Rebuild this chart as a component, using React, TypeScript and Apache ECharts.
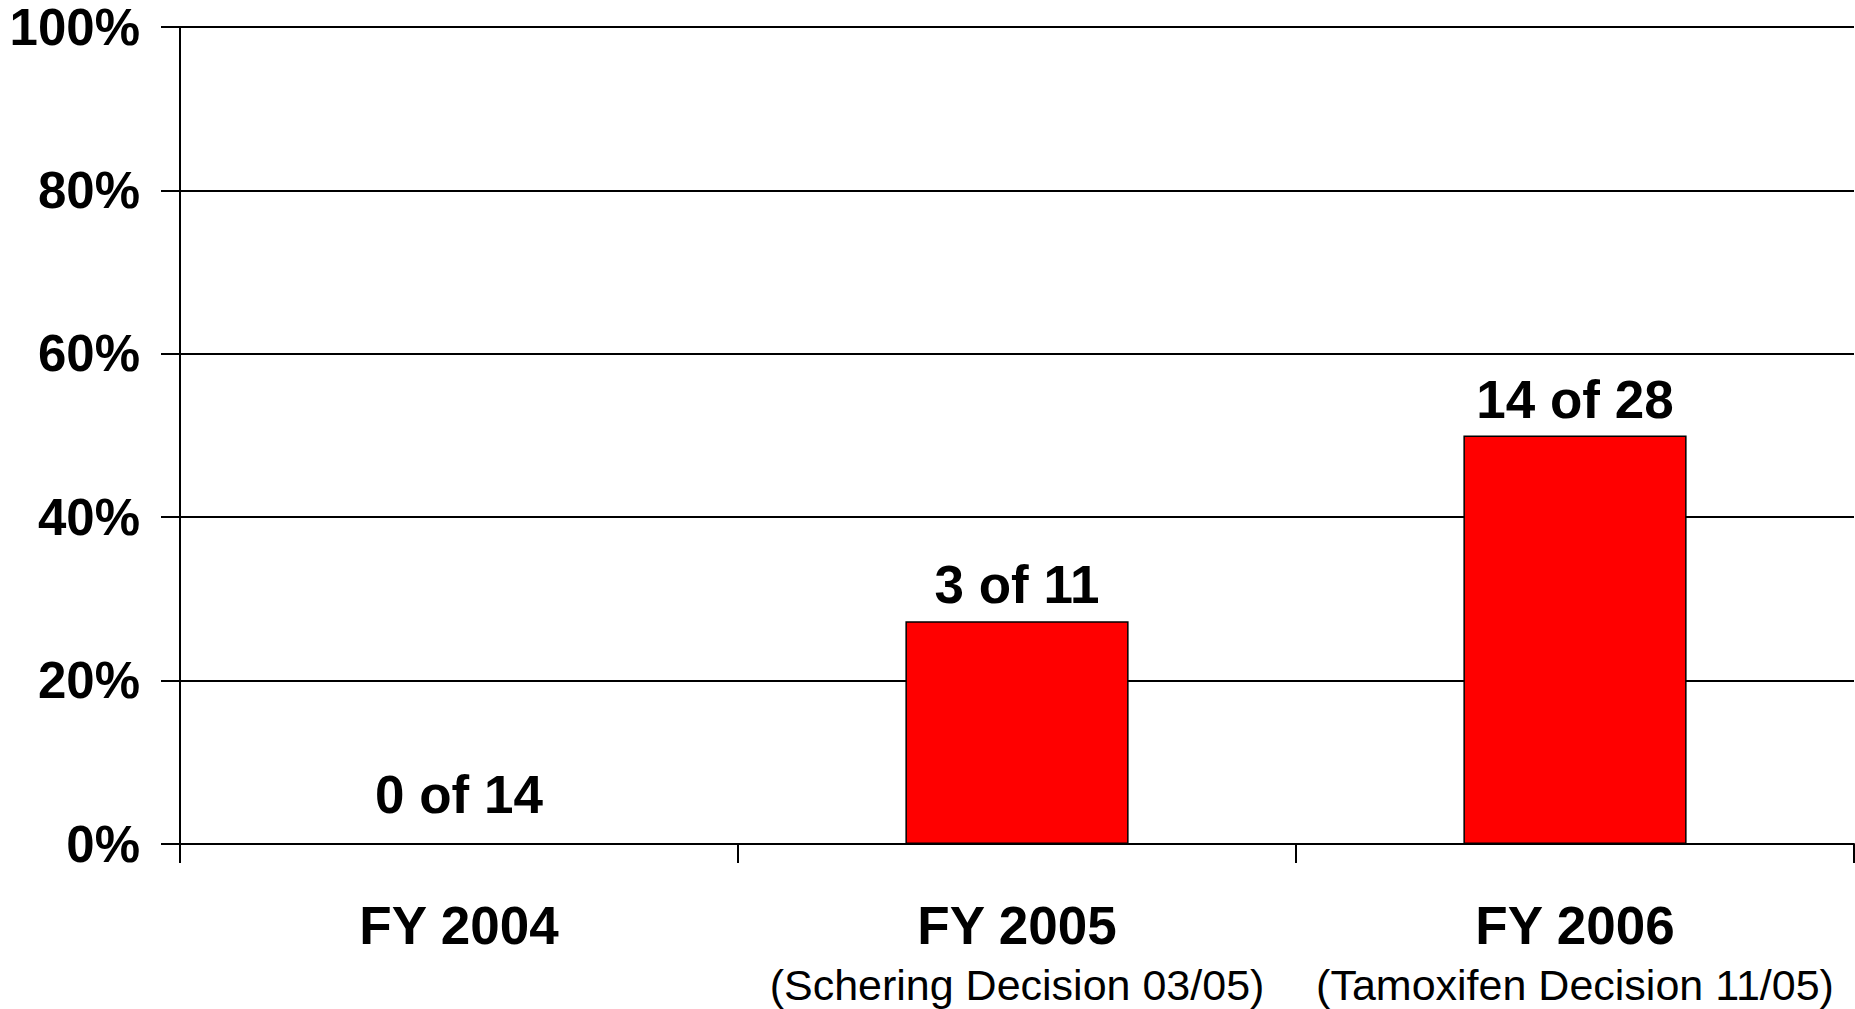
import React, { useEffect, useRef } from "react";
import * as echarts from "echarts";

const categories = ["FY 2004", "FY 2005", "FY 2006"];
const subtitles = ["", "(Schering Decision 03/05)", "(Tamoxifen Decision 11/05)"];
const percentValues = [0, 27.27, 50];
const barLabels = ["0 of 14", "3 of 11", "14 of 28"];

const FONT = "'Liberation Sans', Arial, Helvetica, sans-serif";

export default function App() {
  const ref = useRef<HTMLDivElement>(null);
  useEffect(() => {
    if (!ref.current) return;
    const chart = echarts.init(ref.current, null, { renderer: "svg" });
    chart.setOption({
      animation: false,
      backgroundColor: "#ffffff",
      grid: { left: 180, right: 1, top: 27, bottom: 165, containLabel: false },
      xAxis: {
        type: "category",
        data: categories,
        axisLine: { show: true, lineStyle: { color: "#000", width: 2 } },
        axisTick: { show: true, length: 19, alignWithLabel: false, lineStyle: { color: "#000", width: 2 } },
        axisLabel: {
          margin: 53,
          interval: 0,
          formatter: (v: string, i: number) =>
            subtitles[i] ? `{a|${v}}\n{b|${subtitles[i]}}` : `{a|${v}}`,
          rich: {
            a: { fontFamily: FONT, fontSize: 53, fontWeight: "bold", color: "#000", lineHeight: 56 },
            b: { fontFamily: FONT, fontSize: 43, color: "#000", lineHeight: 64 },
          },
        },
      },
      yAxis: {
        type: "value",
        min: 0,
        max: 100,
        interval: 20,
        axisLine: { show: true, lineStyle: { color: "#000", width: 2 } },
        axisTick: { show: true, length: 19, lineStyle: { color: "#000", width: 2 } },
        splitLine: { show: true, lineStyle: { color: "#000", width: 2 } },
        axisLabel: {
          formatter: "{value}%",
          margin: 40,
          fontFamily: FONT,
          fontSize: 51,
          fontWeight: "bold",
          color: "#000",
        },
      },
      series: [
        {
          type: "bar",
          data: percentValues.map((v) => (v === 0 ? { value: v, label: { distance: 22 } } : v)),
          barWidth: "40%",
          itemStyle: { color: "#ff0000", borderColor: "#000", borderWidth: 1.5 },
          label: {
            show: true,
            position: "top",
            distance: 10,
            formatter: (p: any) => barLabels[p.dataIndex],
            fontFamily: FONT,
            fontSize: 53,
            fontWeight: "bold",
            color: "#000",
          },
        },
      ],
    });
    return () => chart.dispose();
  }, []);
  return (
    <div
      ref={ref}
      style={{ position: "absolute", left: 0, top: 0, width: 1855, height: 1009, background: "#fff" }}
    />
  );
}
